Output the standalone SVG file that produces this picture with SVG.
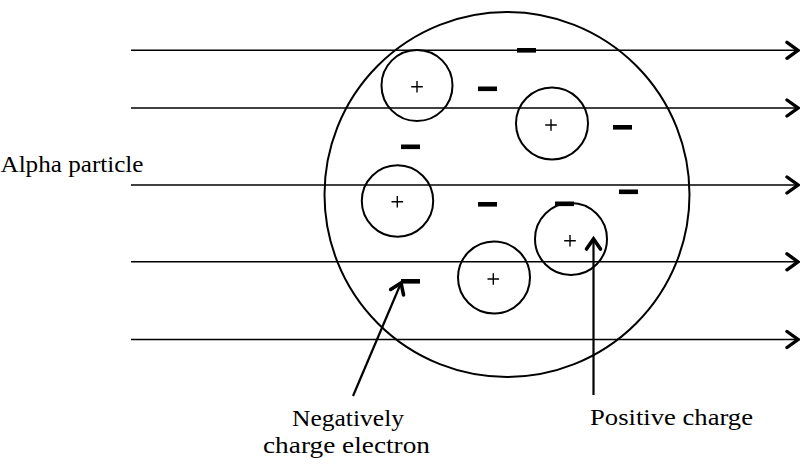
<svg xmlns="http://www.w3.org/2000/svg" width="800" height="469" viewBox="0 0 800 469">
  <defs>
    <marker id="chev" markerUnits="userSpaceOnUse" markerWidth="30" markerHeight="30" refX="0" refY="0" viewBox="-15 -15 30 30" orient="auto" overflow="visible">
      <path d="M -11 -8 L 0 0 L -11 8" fill="none" stroke="#000" stroke-width="3.4" stroke-linejoin="miter" stroke-linecap="round"/>
    </marker>
    <marker id="ptr" markerUnits="userSpaceOnUse" markerWidth="30" markerHeight="30" refX="0" refY="0" viewBox="-15 -15 30 30" orient="auto" overflow="visible">
      <path d="M -10 -7 L 0 0 L -10 7" fill="none" stroke="#000" stroke-width="3.6" stroke-linejoin="miter" stroke-linecap="round"/>
    </marker>
  </defs>
  <style>
    .ray { stroke: #000; stroke-width: 1.6; fill: none; marker-end: url(#chev); }
    .ptr { stroke: #000; stroke-width: 2.2; fill: none; marker-end: url(#ptr); }
    .atom { fill: none; stroke: #000; stroke-width: 2; }
    .pos { fill: none; stroke: #000; stroke-width: 2; }
    .plus { stroke: #000; stroke-width: 1.4; fill: none; }
    .minus { fill: #000; }
    .lbl { font-family: "Liberation Serif", "DejaVu Serif", serif; font-size: 22.5px; fill: #000; }
  </style>
  <rect width="800" height="469" fill="#fff"/>

  <g id="atom">
    <circle class="atom" cx="507" cy="194.5" r="182.5"/>
  </g>

  <g id="positive-charges">
    <g id="pc1"><circle class="pos" cx="417" cy="85.5" r="35.5"/><path class="plus" d="M411.2 86.7h11.6M417 80.9v11.6"/></g>
    <g id="pc2"><circle class="pos" cx="552" cy="123.5" r="36"/><path class="plus" d="M545.2 125h11.6M551 119.2v11.6"/></g>
    <g id="pc3"><circle class="pos" cx="397.5" cy="201" r="35.7"/><path class="plus" d="M391.5 201.7h11.6M397.3 195.9v11.6"/></g>
    <g id="pc4"><circle class="pos" cx="494" cy="277.5" r="36"/><path class="plus" d="M487.5 279h11.6M493.3 273.2v11.6"/></g>
    <g id="pc5"><circle class="pos" cx="571" cy="239" r="36"/><path class="plus" d="M564.2 240.7h11.6M570 234.9v11.6"/></g>
  </g>

  <g id="electrons">
    <rect class="minus" x="517" y="48" width="19" height="4.6"/>
    <rect class="minus" x="478" y="86.5" width="19" height="4.6"/>
    <rect class="minus" x="613" y="125" width="19" height="4.6"/>
    <rect class="minus" x="401" y="144.5" width="19" height="4.6"/>
    <rect class="minus" x="619" y="189.5" width="19" height="4.6"/>
    <rect class="minus" x="478" y="202" width="19" height="4.6"/>
    <rect class="minus" x="555" y="201.5" width="19" height="4.6"/>
    <rect class="minus" x="401" y="279" width="19" height="4.6"/>
  </g>

  <g id="connectors">
    <line class="ray" x1="131" y1="50.3" x2="798" y2="50.3"/>
    <line class="ray" x1="131" y1="108" x2="798" y2="108"/>
    <line class="ray" x1="131" y1="185" x2="798" y2="185"/>
    <line class="ray" x1="131" y1="261.8" x2="798" y2="261.8"/>
    <line class="ray" x1="131" y1="339.5" x2="798" y2="339.5"/>
    <line class="ptr" x1="353" y1="396" x2="401" y2="283"/>
    <line class="ptr" x1="593.5" y1="395" x2="593.5" y2="239"/>
  </g>

  <g id="labels">
    <text class="lbl" x="0.5" y="172" textLength="143" lengthAdjust="spacingAndGlyphs">Alpha particle</text>
    <text class="lbl" x="292" y="425.5" textLength="112" lengthAdjust="spacingAndGlyphs">Negatively</text>
    <text class="lbl" x="263" y="452.5" textLength="167" lengthAdjust="spacingAndGlyphs">charge electron</text>
    <text class="lbl" x="590" y="425" textLength="163" lengthAdjust="spacingAndGlyphs">Positive charge</text>
  </g>
</svg>
